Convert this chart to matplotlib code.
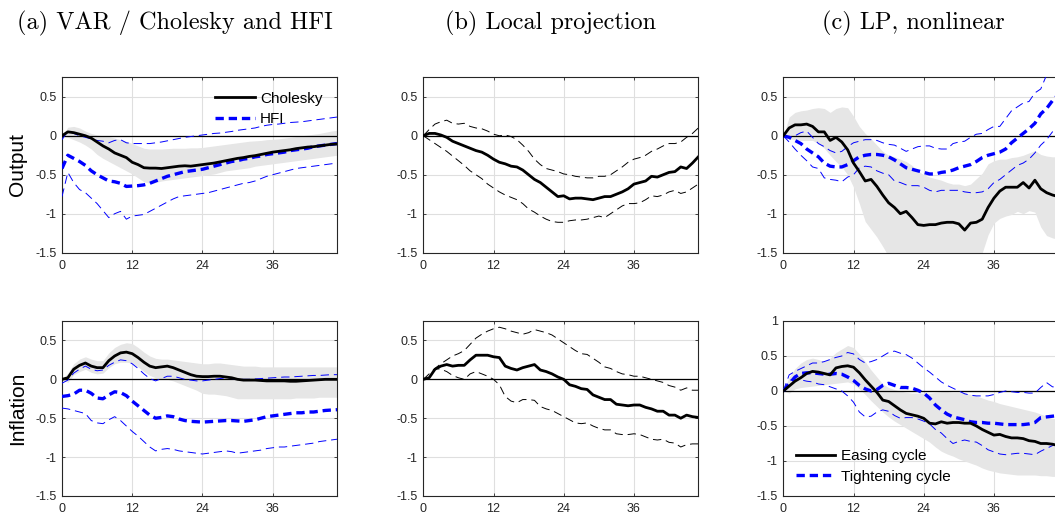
import matplotlib
matplotlib.use("Agg")
import matplotlib.pyplot as plt
import numpy as np

plt.rcParams['font.family'] = ['Liberation Sans', 'DejaVu Sans']
plt.rcParams['lines.scale_dashes'] = False

horizon = list(range(48))
xticks = [0, 12, 24, 36]
xticklabels = ['0', '12', '24', '36']
yticks_std = [-1.5, -1, -0.5, 0, 0.5]
yticklabels_std = ['-1.5', '-1', '-0.5', '0', '0.5']
yticks_c_inf = [-1.5, -1, -0.5, 0, 0.5, 1]
yticklabels_c_inf = ['-1.5', '-1', '-0.5', '0', '0.5', '1']

column_titles = ['(a) VAR / Cholesky and HFI', '(b) Local projection', '(c) LP, nonlinear']
row_labels = ['Output', 'Inflation']
legend_a = ['Cholesky', 'HFI']
legend_c = ['Easing cycle', 'Tightening cycle']

# ---------- (a) VAR: Output ----------
chol_out = [0, 0.05, 0.04, 0.02, 0.0, -0.03, -0.08, -0.13, -0.17, -0.22, -0.25, -0.28, -0.34, -0.37, -0.41,
            -0.415, -0.415, -0.42, -0.41, -0.40, -0.39, -0.385, -0.39, -0.38, -0.37, -0.36, -0.35, -0.335,
            -0.32, -0.305, -0.29, -0.28, -0.265, -0.255, -0.24, -0.225, -0.21, -0.2, -0.19, -0.18, -0.165,
            -0.155, -0.145, -0.14, -0.13, -0.12, -0.11, -0.105]
chol_out_lo = [0, -0.02, -0.05, -0.08, -0.12, -0.17, -0.24, -0.29, -0.33, -0.37, -0.41, -0.45, -0.49, -0.54,
               -0.59, -0.61, -0.6, -0.58, -0.57, -0.56, -0.55, -0.54, -0.53, -0.52, -0.51, -0.5, -0.49, -0.47,
               -0.45, -0.44, -0.43, -0.42, -0.41, -0.39, -0.38, -0.37, -0.36, -0.35, -0.34, -0.33, -0.32,
               -0.31, -0.3, -0.29, -0.28, -0.27, -0.26, -0.25]
chol_out_hi = [0, 0.11, 0.12, 0.1, 0.06, 0.03, 0.01, 0.0, -0.01, -0.03, -0.05, -0.07, -0.1, -0.13, -0.16,
               -0.17, -0.17, -0.17, -0.165, -0.16, -0.16, -0.16, -0.155, -0.155, -0.15, -0.14, -0.13, -0.12,
               -0.11, -0.1, -0.09, -0.08, -0.07, -0.065, -0.06, -0.05, -0.045, -0.04, -0.03, -0.02, -0.01,
               0.0, 0.01, 0.02, 0.03, 0.045, 0.06, 0.07]
hfi_out = [-0.42, -0.25, -0.29, -0.33, -0.38, -0.45, -0.5, -0.54, -0.58, -0.59, -0.61, -0.65, -0.645, -0.64,
           -0.63, -0.61, -0.58, -0.55, -0.52, -0.5, -0.48, -0.46, -0.45, -0.44, -0.43, -0.41, -0.39, -0.37,
           -0.35, -0.33, -0.32, -0.3, -0.29, -0.27, -0.26, -0.24, -0.23, -0.22, -0.21, -0.19, -0.18, -0.17,
           -0.16, -0.14, -0.13, -0.12, -0.11, -0.1]
hfi_out_hi = [-0.05, 0.06, 0.03, 0.0, -0.02, -0.04, -0.06, -0.07, -0.09, -0.06, -0.05, -0.09, -0.1, -0.1,
              -0.1, -0.1, -0.09, -0.08, -0.065, -0.05, -0.035, -0.02, -0.01, 0.0, 0.01, 0.02, 0.03, 0.035,
              0.045, 0.055, 0.07, 0.08, 0.09, 0.1, 0.12, 0.135, 0.145, 0.15, 0.16, 0.17, 0.175, 0.18, 0.19,
              0.2, 0.21, 0.22, 0.23, 0.24]
hfi_out_lo = [-0.78, -0.47, -0.6, -0.69, -0.73, -0.8, -0.87, -0.96, -1.05, -1.0, -0.97, -1.07, -1.03, -1.02,
              -1.01, -0.97, -0.93, -0.89, -0.85, -0.81, -0.78, -0.77, -0.76, -0.75, -0.74, -0.73, -0.71,
              -0.69, -0.67, -0.65, -0.63, -0.61, -0.6, -0.58, -0.55, -0.52, -0.5, -0.48, -0.46, -0.44, -0.42,
              -0.41, -0.4, -0.39, -0.38, -0.37, -0.36, -0.35]

# ---------- (a) VAR: Inflation ----------
chol_inf = [0, 0.02, 0.13, 0.18, 0.21, 0.17, 0.15, 0.15, 0.24, 0.3, 0.34, 0.35, 0.33, 0.28, 0.22, 0.17, 0.15,
            0.16, 0.17, 0.15, 0.12, 0.09, 0.06, 0.04, 0.035, 0.035, 0.04, 0.04, 0.03, 0.02, 0.0, -0.01, -0.01,
            -0.01, -0.015, -0.02, -0.02, -0.02, -0.02, -0.025, -0.025, -0.02, -0.015, -0.01, -0.005, 0.0,
            0.0, 0.0]
chol_inf_hi = [0, 0.08, 0.2, 0.26, 0.29, 0.26, 0.24, 0.24, 0.34, 0.41, 0.45, 0.47, 0.46, 0.41, 0.35, 0.3,
               0.27, 0.26, 0.26, 0.25, 0.24, 0.23, 0.22, 0.21, 0.2, 0.2, 0.21, 0.21, 0.2, 0.19, 0.18, 0.17,
               0.17, 0.17, 0.16, 0.16, 0.16, 0.16, 0.16, 0.16, 0.16, 0.16, 0.16, 0.16, 0.16, 0.16, 0.16, 0.16]
chol_inf_lo = [0, -0.04, 0.06, 0.1, 0.13, 0.09, 0.07, 0.08, 0.15, 0.2, 0.22, 0.22, 0.21, 0.16, 0.1, 0.05,
               0.02, 0.01, 0.0, -0.02, -0.05, -0.08, -0.11, -0.14, -0.18, -0.19, -0.19, -0.2, -0.21, -0.23,
               -0.25, -0.25, -0.25, -0.25, -0.25, -0.25, -0.25, -0.25, -0.25, -0.25, -0.24, -0.24, -0.24,
               -0.24, -0.23, -0.23, -0.23, -0.23]
hfi_inf = [-0.22, -0.21, -0.19, -0.14, -0.14, -0.18, -0.24, -0.25, -0.2, -0.16, -0.17, -0.21, -0.28, -0.34,
           -0.4, -0.46, -0.5, -0.49, -0.47, -0.48, -0.51, -0.53, -0.54, -0.545, -0.55, -0.545, -0.54, -0.535,
           -0.53, -0.53, -0.535, -0.54, -0.53, -0.52, -0.5, -0.48, -0.47, -0.46, -0.45, -0.44, -0.43, -0.43,
           -0.42, -0.42, -0.41, -0.4, -0.395, -0.39]
hfi_inf_hi = [-0.05, -0.01, 0.08, 0.13, 0.17, 0.13, 0.11, 0.12, 0.18, 0.22, 0.25, 0.24, 0.2, 0.14, 0.07,
              0.01, -0.02, 0.01, 0.04, 0.04, 0.02, 0.0, -0.01, -0.02, -0.02, -0.01, 0.0, 0.01, 0.02, 0.01,
              0.0, 0.0, 0.0, 0.005, 0.01, 0.015, 0.02, 0.025, 0.03, 0.03, 0.035, 0.04, 0.045, 0.05, 0.05,
              0.055, 0.06, 0.06]
hfi_inf_lo = [-0.37, -0.38, -0.4, -0.42, -0.44, -0.53, -0.56, -0.57, -0.52, -0.48, -0.53, -0.6, -0.67,
              -0.73, -0.8, -0.87, -0.92, -0.9, -0.89, -0.9, -0.92, -0.93, -0.94, -0.95, -0.96, -0.95, -0.94,
              -0.93, -0.92, -0.93, -0.95, -0.94, -0.93, -0.92, -0.91, -0.89, -0.88, -0.87, -0.87, -0.86,
              -0.85, -0.84, -0.83, -0.82, -0.8, -0.79, -0.78, -0.77]

# ---------- (b) Local projection ----------
lp_out = [0, 0.03, 0.03, 0.01, -0.02, -0.07, -0.1, -0.13, -0.16, -0.19, -0.21, -0.25, -0.3, -0.34, -0.36,
          -0.39, -0.4, -0.44, -0.5, -0.56, -0.6, -0.66, -0.72, -0.78, -0.77, -0.81, -0.8, -0.8, -0.81, -0.82,
          -0.8, -0.78, -0.78, -0.75, -0.72, -0.68, -0.62, -0.6, -0.58, -0.52, -0.53, -0.5, -0.47, -0.46,
          -0.4, -0.42, -0.35, -0.27]
lp_out_hi = [0, 0.08, 0.15, 0.18, 0.2, 0.16, 0.15, 0.16, 0.12, 0.1, 0.09, 0.06, 0.02, 0.0, 0.01, -0.01,
             -0.05, -0.12, -0.2, -0.3, -0.37, -0.42, -0.44, -0.46, -0.49, -0.5, -0.52, -0.53, -0.54, -0.54,
             -0.52, -0.52, -0.5, -0.45, -0.4, -0.34, -0.3, -0.28, -0.25, -0.2, -0.17, -0.13, -0.1, -0.1,
             -0.08, -0.02, 0.03, 0.1]
lp_out_lo = [0, -0.05, -0.1, -0.15, -0.2, -0.26, -0.32, -0.38, -0.45, -0.5, -0.55, -0.62, -0.67, -0.72,
             -0.76, -0.79, -0.82, -0.87, -0.94, -0.98, -1.03, -1.07, -1.1, -1.11, -1.11, -1.09, -1.08, -1.08,
             -1.07, -1.05, -1.03, -1.05, -1.0, -0.95, -0.9, -0.87, -0.87, -0.86, -0.82, -0.77, -0.78, -0.76,
             -0.72, -0.7, -0.74, -0.72, -0.67, -0.62]
lp_inf = [0, 0.02, 0.13, 0.17, 0.19, 0.17, 0.18, 0.18, 0.25, 0.31, 0.31, 0.31, 0.29, 0.28, 0.17, 0.14, 0.12,
          0.15, 0.17, 0.19, 0.12, 0.1, 0.07, 0.03, 0.0, -0.07, -0.09, -0.12, -0.13, -0.2, -0.23, -0.26, -0.26,
          -0.32, -0.33, -0.34, -0.33, -0.33, -0.36, -0.38, -0.41, -0.41, -0.46, -0.46, -0.5, -0.46, -0.48,
          -0.49]
lp_inf_hi = [0, 0.07, 0.14, 0.2, 0.25, 0.3, 0.33, 0.37, 0.45, 0.53, 0.58, 0.62, 0.65, 0.67, 0.65, 0.62, 0.6,
             0.58, 0.6, 0.64, 0.62, 0.6, 0.57, 0.52, 0.47, 0.42, 0.37, 0.33, 0.32, 0.27, 0.22, 0.16, 0.14,
             0.1, 0.07, 0.06, 0.04, 0.04, 0.02, 0.0, -0.02, -0.04, -0.08, -0.1, -0.14, -0.11, -0.14, -0.14]
lp_inf_lo = [0, 0.02, 0.14, 0.13, 0.1, 0.05, 0.02, 0.0, 0.07, 0.1, 0.07, 0.04, 0.0, -0.07, -0.22, -0.28,
             -0.3, -0.26, -0.26, -0.27, -0.35, -0.38, -0.4, -0.44, -0.48, -0.52, -0.56, -0.57, -0.56, -0.6,
             -0.63, -0.65, -0.65, -0.7, -0.71, -0.71, -0.7, -0.71, -0.74, -0.77, -0.78, -0.77, -0.81, -0.82,
             -0.87, -0.84, -0.83, -0.83]

# ---------- (c) LP nonlinear: Output ----------
easing_out = [0, 0.1, 0.14, 0.14, 0.15, 0.12, 0.05, 0.05, -0.06, -0.02, -0.08, -0.18, -0.35, -0.46, -0.58,
              -0.56, -0.65, -0.76, -0.86, -0.92, -1.0, -0.97, -1.05, -1.14, -1.15, -1.14, -1.14, -1.12, -1.11,
              -1.11, -1.13, -1.21, -1.12, -1.11, -1.07, -0.92, -0.8, -0.71, -0.66, -0.66, -0.66, -0.6, -0.67,
              -0.57, -0.68, -0.73, -0.76, -0.78]
easing_out_hi = [0, 0.24, 0.3, 0.32, 0.33, 0.35, 0.36, 0.35, 0.3, 0.35, 0.37, 0.36, 0.25, 0.12, 0.03, -0.04,
                 -0.12, -0.2, -0.25, -0.27, -0.3, -0.33, -0.38, -0.45, -0.5, -0.53, -0.55, -0.57, -0.6, -0.62,
                 -0.62, -0.64, -0.62, -0.55, -0.48, -0.36, -0.32, -0.3, -0.3, -0.28, -0.27, -0.25, -0.22,
                 -0.19, -0.24, -0.26, -0.27, -0.27]
easing_out_lo = [0, -0.04, -0.05, -0.06, -0.06, -0.06, -0.1, -0.16, -0.25, -0.33, -0.4, -0.5, -0.66, -0.87,
                 -1.1, -1.2, -1.3, -1.42, -1.55, -1.65, -1.75, -1.8, -1.85, -1.9, -1.9, -1.9, -1.9, -1.9,
                 -1.9, -1.9, -1.85, -1.8, -1.75, -1.65, -1.5, -1.27, -1.12, -1.06, -1.03, -1.01, -0.97, -1.0,
                 -0.96, -0.98, -1.17, -1.28, -1.31, -1.33]
tight_out = [0, -0.02, -0.06, -0.1, -0.17, -0.22, -0.27, -0.35, -0.39, -0.4, -0.4, -0.37, -0.32, -0.27,
             -0.25, -0.24, -0.24, -0.25, -0.27, -0.31, -0.36, -0.41, -0.43, -0.45, -0.47, -0.49, -0.49, -0.47,
             -0.46, -0.44, -0.41, -0.39, -0.37, -0.33, -0.28, -0.25, -0.23, -0.21, -0.17, -0.09, -0.03, 0.03,
             0.09, 0.16, 0.28, 0.35, 0.45, 0.53]
tight_out_hi = [0, -0.02, 0.0, 0.04, 0.06, -0.02, -0.1, -0.14, -0.19, -0.22, -0.2, -0.14, -0.09, -0.07,
                -0.05, -0.05, -0.06, -0.09, -0.11, -0.12, -0.16, -0.2, -0.17, -0.14, -0.13, -0.13, -0.16,
                -0.17, -0.17, -0.1, -0.08, -0.07, -0.02, 0.02, 0.03, 0.08, 0.12, 0.12, 0.22, 0.32, 0.37, 0.42,
                0.44, 0.55, 0.6, 0.78, 0.9, 1.0]
tight_out_lo = [0, -0.08, -0.17, -0.25, -0.32, -0.4, -0.42, -0.54, -0.56, -0.57, -0.59, -0.53, -0.5, -0.41,
                -0.39, -0.4, -0.45, -0.48, -0.5, -0.58, -0.6, -0.63, -0.64, -0.64, -0.66, -0.7, -0.72, -0.7,
                -0.7, -0.7, -0.7, -0.72, -0.73, -0.73, -0.72, -0.68, -0.6, -0.56, -0.5, -0.44, -0.38, -0.35,
                -0.3, -0.22, -0.12, -0.05, 0.05, 0.12]

# ---------- (c) LP nonlinear: Inflation ----------
easing_inf = [0, 0.07, 0.14, 0.19, 0.25, 0.28, 0.27, 0.25, 0.23, 0.33, 0.35, 0.36, 0.34, 0.26, 0.16, 0.07,
              -0.02, -0.13, -0.15, -0.21, -0.27, -0.32, -0.34, -0.36, -0.39, -0.46, -0.47, -0.44, -0.46,
              -0.45, -0.45, -0.46, -0.46, -0.5, -0.55, -0.59, -0.63, -0.62, -0.65, -0.67, -0.67, -0.68,
              -0.71, -0.72, -0.75, -0.75, -0.76, -0.78]
easing_inf_hi = [0, 0.2, 0.32, 0.4, 0.45, 0.47, 0.45, 0.42, 0.47, 0.55, 0.6, 0.65, 0.62, 0.53, 0.42, 0.3,
                 0.2, 0.1, 0.05, 0.02, 0.0, -0.02, -0.03, -0.03, -0.03, -0.03, -0.02, -0.01, -0.01, -0.02,
                 -0.02, -0.03, -0.05, -0.07, -0.1, -0.13, -0.15, -0.18, -0.2, -0.22, -0.24, -0.26, -0.28,
                 -0.3, -0.33, -0.36, -0.39, -0.4]
easing_inf_lo = [0, -0.03, 0.03, 0.05, 0.06, 0.07, 0.08, 0.09, 0.1, 0.11, 0.12, 0.13, 0.1, 0.03, -0.05,
                 -0.14, -0.22, -0.3, -0.37, -0.43, -0.48, -0.53, -0.58, -0.63, -0.68, -0.73, -0.8, -0.86,
                 -0.9, -0.93, -0.97, -1.0, -1.03, -1.06, -1.1, -1.13, -1.15, -1.17, -1.18, -1.19, -1.2, -1.2,
                 -1.2, -1.2, -1.21, -1.21, -1.22, -1.22]
tight_inf = [0, 0.1, 0.2, 0.25, 0.26, 0.26, 0.25, 0.24, 0.24, 0.25, 0.24, 0.2, 0.15, 0.08, 0.03, 0.0, 0.02,
             0.08, 0.11, 0.08, 0.05, 0.05, 0.04, 0.01, -0.03, -0.1, -0.2, -0.27, -0.33, -0.37, -0.39, -0.41,
             -0.44, -0.45, -0.45, -0.46, -0.46, -0.47, -0.48, -0.48, -0.48, -0.48, -0.47, -0.45, -0.38, -0.37,
             -0.36, -0.35]
tight_inf_hi = [0, 0.23, 0.28, 0.32, 0.36, 0.4, 0.4, 0.42, 0.45, 0.48, 0.5, 0.55, 0.53, 0.45, 0.4, 0.42,
                0.45, 0.5, 0.55, 0.57, 0.54, 0.52, 0.47, 0.4, 0.33, 0.27, 0.2, 0.13, 0.08, 0.04, 0.0, -0.04,
                -0.06, -0.07, -0.07, -0.07, -0.05, -0.02, 0.0, -0.01, -0.02, -0.02, -0.03, -0.03, 0.05, 0.12,
                0.06, 0.05]
tight_inf_lo = [0, 0.15, 0.17, 0.16, 0.14, 0.13, 0.1, 0.09, 0.06, 0.03, 0.0, -0.07, -0.16, -0.3, -0.37,
                -0.36, -0.3, -0.27, -0.29, -0.35, -0.39, -0.38, -0.38, -0.4, -0.43, -0.47, -0.55, -0.6, -0.68,
                -0.75, -0.72, -0.7, -0.72, -0.73, -0.78, -0.84, -0.87, -0.9, -0.91, -0.9, -0.89, -0.89, -0.9,
                -0.91, -0.86, -0.82, -0.78, -0.75]

# ---------------- figure ----------------
W, H = 1055, 513
fig = plt.figure(figsize=(W / 100, H / 100), dpi=100)

BAND = '#e6e6e6'
BLUE = (0, 0, 1)
AXC = '#262626'
GRIDC = '#dfdfdf'


def make_ax(x0, ytop, ybot, yt, ytl, ylim):
    ax = fig.add_axes([x0 / W, 1 - ybot / H, 275 / W, (ybot - ytop) / H])
    ax.set_xlim(0, 47)
    ax.set_ylim(*ylim)
    ax.set_xticks(xticks)
    ax.set_xticklabels(xticklabels)
    ax.set_yticks(yt)
    ax.set_yticklabels(ytl)
    ax.grid(True, color=GRIDC, linewidth=0.8)
    ax.set_axisbelow(True)
    for s in ax.spines.values():
        s.set_color(AXC)
        s.set_linewidth(0.8)
    ax.tick_params(direction='in', length=2.5, width=0.6, colors=AXC, labelsize=9,
                   top=True, right=True)
    ax.tick_params(axis='x', pad=5)
    ax.tick_params(axis='y', pad=4)
    ax.axhline(0, color='black', linewidth=0.9, zorder=2)
    return ax


lefts = [62, 423.3, 783.3]
top_row = (77.3, 252.7)
bot_row = (321, 496)
ylim_std = (-1.5, 0.75)

thick_dash = dict(color=BLUE, linewidth=2.4, linestyle=(0, (6, 3.5)), zorder=3)
thin_dash = dict(color=BLUE, linewidth=0.7, linestyle=(0, (6, 3.5)), zorder=3)
solid = dict(color='black', linewidth=2.0, zorder=4)
black_thin_dash = dict(color='black', linewidth=0.7, linestyle=(0, (6, 3.5)), zorder=3)

legend_kw = dict(frameon=False, fontsize=11, handlelength=2.6, handletextpad=0.35,
                 labelspacing=0.42)

# (a) output
ax = make_ax(lefts[0], *top_row, yticks_std, yticklabels_std, ylim_std)
ax.fill_between(horizon, chol_out_lo, chol_out_hi, color=BAND, linewidth=0, zorder=1)
l1, = ax.plot(horizon, chol_out, **solid)
l2, = ax.plot(horizon, hfi_out, **thick_dash)
ax.plot(horizon, hfi_out_hi, **thin_dash)
ax.plot(horizon, hfi_out_lo, **thin_dash)
ax.legend([l1, l2], legend_a, loc='upper right', borderaxespad=0.55, **legend_kw)
ax.set_ylabel(row_labels[0], fontsize=15)
ax.yaxis.set_label_coords((27 - 62) / 275, 0.5)

# (a) inflation
ax = make_ax(lefts[0], *bot_row, yticks_std, yticklabels_std, ylim_std)
ax.fill_between(horizon, chol_inf_lo, chol_inf_hi, color=BAND, linewidth=0, zorder=1)
ax.plot(horizon, chol_inf, **solid)
ax.plot(horizon, hfi_inf, **thick_dash)
ax.plot(horizon, hfi_inf_hi, **thin_dash)
ax.plot(horizon, hfi_inf_lo, **thin_dash)
ax.set_ylabel(row_labels[1], fontsize=15)
ax.yaxis.set_label_coords((27 - 62) / 275, 0.5)

# (b) output
ax = make_ax(lefts[1], *top_row, yticks_std, yticklabels_std, ylim_std)
ax.plot(horizon, lp_out, **solid)
ax.plot(horizon, lp_out_hi, **black_thin_dash)
ax.plot(horizon, lp_out_lo, **black_thin_dash)

# (b) inflation
ax = make_ax(lefts[1], *bot_row, yticks_std, yticklabels_std, ylim_std)
ax.plot(horizon, lp_inf, **solid)
ax.plot(horizon, lp_inf_hi, **black_thin_dash)
ax.plot(horizon, lp_inf_lo, **black_thin_dash)

# (c) output
ax = make_ax(lefts[2], *top_row, yticks_std, yticklabels_std, ylim_std)
ax.fill_between(horizon, easing_out_lo, easing_out_hi, color=BAND, linewidth=0, zorder=1)
ax.plot(horizon, easing_out, **solid)
ax.plot(horizon, tight_out, **thick_dash)
ax.plot(horizon, tight_out_hi, **thin_dash)
ax.plot(horizon, tight_out_lo, **thin_dash)

# (c) inflation
ax = make_ax(lefts[2], *bot_row, yticks_c_inf, yticklabels_c_inf, (-1.5, 1))
ax.fill_between(horizon, easing_inf_lo, easing_inf_hi, color=BAND, linewidth=0, zorder=1)
m1, = ax.plot(horizon, easing_inf, **solid)
m2, = ax.plot(horizon, tight_inf, **thick_dash)
ax.plot(horizon, tight_inf_hi, **thin_dash)
ax.plot(horizon, tight_inf_lo, **thin_dash)
ax.legend([m1, m2], legend_c, loc='lower left', borderaxespad=0.4, **legend_kw)

# column titles
title_x = [175, 551, 913]
for tx, t in zip(title_x, column_titles):
    fig.text(tx / W, 1 - 23 / H, t, ha='center', va='center', fontsize=17.5,
             family=['cmr10', 'DejaVu Serif'])

fig.savefig('out.png', dpi=100)
